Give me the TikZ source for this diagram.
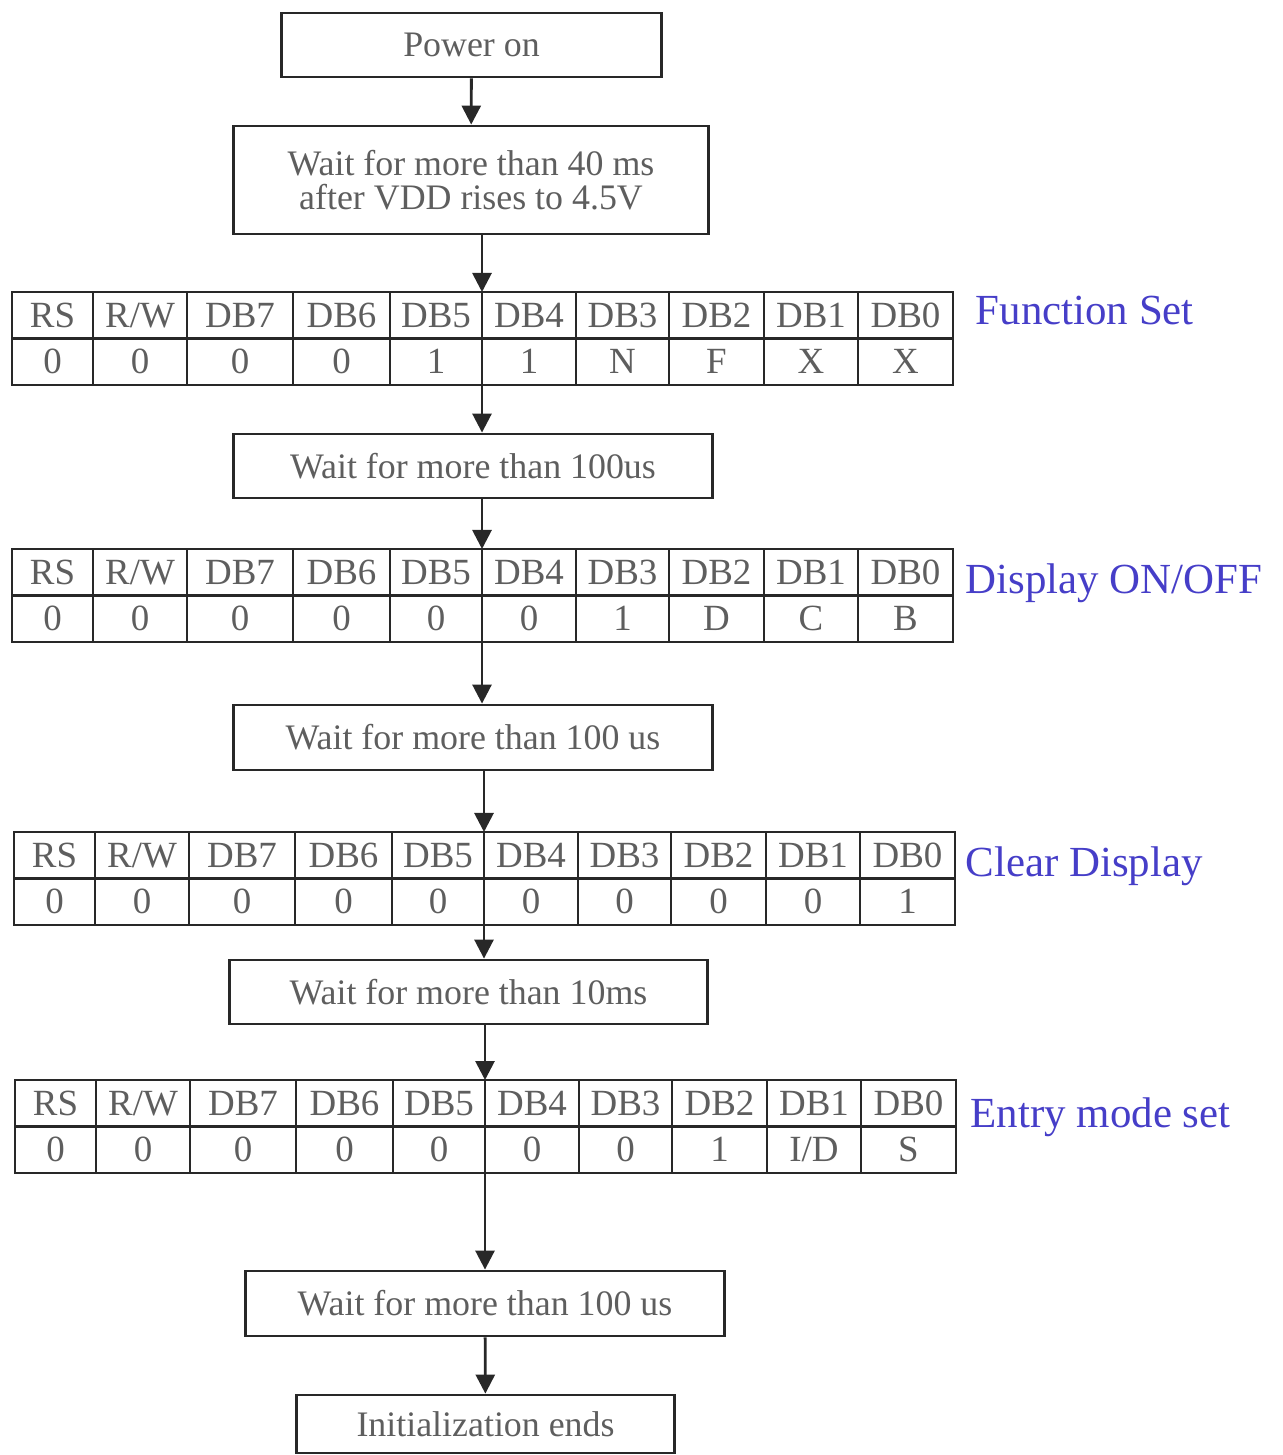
\documentclass[tikz,border=0pt]{standalone}
\usepackage{fontspec}
\setmainfont{Liberation Serif}
\usetikzlibrary{arrows.meta, calc}

\definecolor{labelblue}{RGB}{70,62,200}
\definecolor{inkgray}{RGB}{40,40,40}

\tikzset{
  stepbox/.style={draw=inkgray, line width=0.8pt, align=center, inner sep=0pt,
    font=\fontsize{10.2}{9.8}\selectfont, text=inkgray!75},
  cell/.style={draw=inkgray, line width=0.8pt, inner sep=0pt, outer sep=0pt,
    anchor=north west, minimum height=0.465cm, font=\fontsize{10.5}{12}\selectfont, text=inkgray!75},
  tablabel/.style={anchor=west, inner sep=0pt, text=labelblue, font=\fontsize{12.2}{14}\selectfont},
  flow/.style={line width=0.8pt, draw=inkgray, -{Triangle[length=0.19cm, width=0.19cm]}},
}

% one register table: name, left x, top y, values
\newcommand{\regtable}[4]{%
  \foreach \t [count=\i] in {RS,{R/W},DB7,DB6,DB5,DB4,DB3,DB2,DB1,DB0} {
    \pgfmathsetmacro\xa{{0,81,175,281,378,470,564,657,752,846,941}[\i-1]}
    \pgfmathsetmacro\xb{{0,81,175,281,378,470,564,657,752,846,941}[\i]}
    \pgfmathsetmacro\cellw{(\xb-\xa)*0.01}
    \node[cell, minimum width=\cellw cm] (#1-h\i) at ({#2+\xa},{#3}) {\t};
  }
  \foreach \v [count=\i] in {#4} {
    \pgfmathsetmacro\xa{{0,81,175,281,378,470,564,657,752,846,941}[\i-1]}
    \pgfmathsetmacro\xb{{0,81,175,281,378,470,564,657,752,846,941}[\i]}
    \pgfmathsetmacro\cellw{(\xb-\xa)*0.01}
    \node[cell, minimum width=\cellw cm] (#1-v\i) at ({#2+\xa},{#3+46.5}) {\v};
  }
}

\begin{document}
\begin{tikzpicture}[x=0.01cm, y=-0.01cm]
\useasboundingbox (0,0) rectangle (1283,1455);

% steps
\node[stepbox, minimum width=3.79cm, minimum height=0.64cm] (pwr) at (471.5,45) {Power on};
\node[stepbox, minimum width=4.74cm, minimum height=1.08cm] (w40) at (471,180)
  {Wait for more than 40 ms\\after VDD rises to 4.5V};
\node[stepbox, minimum width=4.78cm, minimum height=0.64cm] (w100a) at (473,466) {Wait for more than 100us};
\node[stepbox, minimum width=4.78cm, minimum height=0.65cm] (w100b) at (473,737.5) {Wait for more than 100 us};
\node[stepbox, minimum width=4.77cm, minimum height=0.64cm] (w10) at (468.5,992) {Wait for more than 10ms};
\node[stepbox, minimum width=4.78cm, minimum height=0.65cm] (w100c) at (485,1303.5) {Wait for more than 100 us};
\node[stepbox, minimum width=3.77cm, minimum height=0.58cm] (fin) at (485.5,1424) {Initialization ends};

% register tables
\regtable{fs}{12}{292}{0,0,0,0,1,1,N,F,X,X}
\regtable{dp}{12}{549}{0,0,0,0,0,0,1,D,C,B}
\regtable{cd}{14}{832}{0,0,0,0,0,0,0,0,0,1}
\regtable{em}{15}{1080}{0,0,0,0,0,0,0,1,{I/D},S}

\node[tablabel] (fs-lab) at (975,311) {Function Set};
\node[tablabel] (dp-lab) at (965,583) {Display ON/OFF};
\node[tablabel] (cd-lab) at (965,866) {Clear Display};
\node[tablabel] (em-lab) at (970,1117) {Entry mode set};

% flow
\draw[flow] (pwr) -- (w40);
\draw[flow] (w40.south -| fs-h6.north west) -- (fs-h6.north west);
\draw[flow] (fs-v6.south west) -- (fs-v6.south west |- w100a.north);
\draw[flow] (w100a.south -| dp-h6.north west) -- (dp-h6.north west);
\draw[flow] (dp-v6.south west) -- (dp-v6.south west |- w100b.north);
\draw[flow] (w100b.south -| cd-h6.north west) -- (cd-h6.north west);
\draw[flow] (cd-v6.south west) -- (cd-v6.south west |- w10.north);
\draw[flow] (w10.south -| em-h6.north west) -- (em-h6.north west);
\draw[flow] (em-v6.south west) -- (em-v6.south west |- w100c.north);
\draw[flow] (w100c) -- (fin);
\end{tikzpicture}
\end{document}
